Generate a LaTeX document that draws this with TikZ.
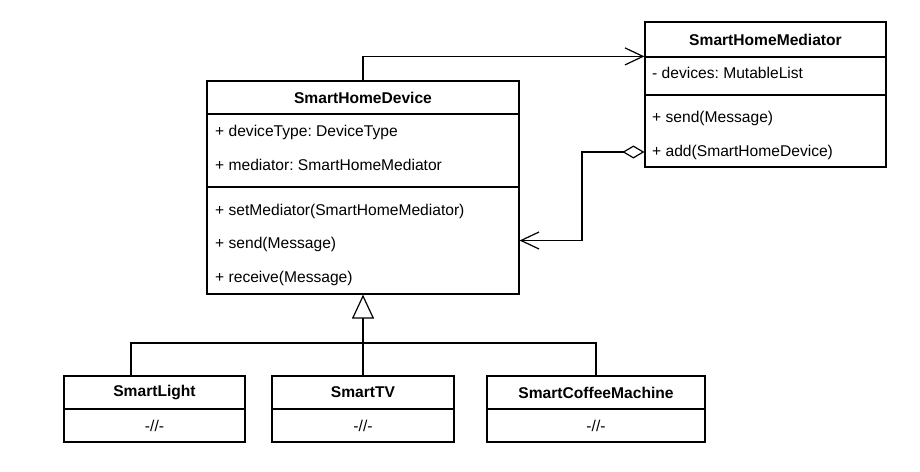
\documentclass[tikz,border=0pt]{standalone}
\usepackage{fontspec}
\setmainfont{Liberation Sans}
\usetikzlibrary{arrows.meta}
\frenchspacing

\begin{document}
\begin{tikzpicture}[x=1pt,y=-1pt]
    \tikzset{every node/.style = {font=\fontsize{15.6}{18}\selectfont}}
    \tikzset{box/.style = {shape=rectangle,draw,line width=1.2pt,inner sep=0pt}}
    \tikzset{row/.style = {anchor=west,inner sep=0pt,text height=11pt,text depth=3pt}}
    \tikzset{edge/.style = {line width=1.2pt}}
    \useasboundingbox (0,0) rectangle (920,471);
    \fill[white] (0,0) rectangle (920,471);
    % classes
    \node[box,minimum width=312pt,minimum height=33pt] (device) at (363,97.5) {\textbf{SmartHomeDevice}};
    \node[box,minimum width=312pt,minimum height=73pt] (devattr) at (363,150.5) {};
    \node[box,minimum width=312pt,minimum height=107pt] (devops) at (363,240.5) {};
    \node[row] (dtype) at (215,132) {+ deviceType: DeviceType};
    \node[row] (dmed) at (215,166) {+ mediator: SmartHomeMediator};
    \node[row] (dset) at (215,211) {+ setMediator(SmartHomeMediator)};
    \node[row] (dsend) at (215,244) {+ send(Message)};
    \node[row] (drecv) at (215,278) {+ receive(Message)};

    \node[box,minimum width=241pt,minimum height=35pt] (mediator) at (765.5,39.5) {\textbf{SmartHomeMediator}};
    \node[box,minimum width=241pt,minimum height=38pt] (medattr) at (765.5,76) {};
    \node[box,minimum width=241pt,minimum height=72pt] (medops) at (765.5,131) {};
    \node[row] (mdev) at (652,74) {- devices: MutableList};
    \node[row] (msend) at (652,118) {+ send(Message)};
    \node[row] (madd) at (652,152) {+ add(SmartHomeDevice)};

    \node[box,minimum width=181pt,minimum height=33pt] (light) at (154.5,392.5) {\textbf{SmartLight}};
    \node[box,minimum width=181pt,minimum height=33pt] (lightbody) at (154.5,425.5) {-//-};
    \node[box,minimum width=182pt,minimum height=33pt] (tv) at (363,392.5) {\textbf{SmartTV}};
    \node[box,minimum width=182pt,minimum height=33pt] (tvbody) at (363,425.5) {-//-};
    \node[box,minimum width=218pt,minimum height=33pt] (coffee) at (596,392.5) {\textbf{SmartCoffeeMachine}};
    \node[box,minimum width=218pt,minimum height=33pt] (coffeebody) at (596,425.5) {-//-};
    %edges
    \coordinate (bend) at (582,0);
    \coordinate (jl) at (131,343);
    \coordinate (jr) at (coffee.north |- jl);
    \draw[edge,-{Straight Barb[length=18pt,width=17pt]}] (device.north) |- (medattr.north west);
    \draw[edge,{Diamond[open,length=22pt,width=13pt]}-{Straight Barb[length=18pt,width=17pt]}]
    (medops.west |- madd) -| (bend |- devops.east) -- (devops.east);
    \draw[edge,-{Triangle[open,length=24pt,width=22pt]}] (tv.north) -- (devops.south);
    \draw[edge] (jl |- light.north) -- (jl) -- (jr) -- (coffee.north);
\end{tikzpicture}
\end{document}
